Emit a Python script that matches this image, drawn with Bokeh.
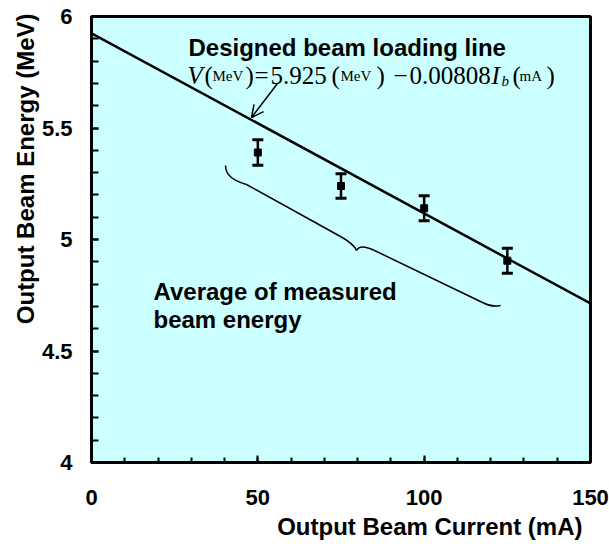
import math
from bokeh.plotting import figure
from bokeh.models import (Label, Arrow, OpenHead, Whisker, TeeHead, ColumnDataSource,
                          SingleIntervalTicker, Range1d, NumeralTickFormatter, Title)
from bokeh.embed import file_html
from bokeh.resources import INLINE

# ---- data ----
current_mA = [50, 75, 100, 125]
energy_MeV = [5.39, 5.24, 5.14, 4.905]
energy_err = [0.057, 0.055, 0.056, 0.056]
design_x = [0, 150]
design_y = [5.925, 4.713]
x_ticks_interval = 50
y_ticks_interval = 0.5

SANS = "Liberation Sans"
SERIF = "Liberation Serif"

# frame geometry (page pixels) for placing annotations
FL, FR, FT, FB = 91, 590, 16, 462
def dx(px):
    return (px - FL) / (FR - FL) * 150
def dy(py):
    return 4 + (FB - py) / (FB - FT) * 2

p = figure(frame_width=499, frame_height=446, x_range=Range1d(0, 150), y_range=Range1d(4, 6),
           output_backend="svg", toolbar_location=None,
           min_border_left=91, min_border_right=19, min_border_top=16, min_border_bottom=82,
           background_fill_color="#CCFFFF", border_fill_color="white")
p.grid.visible = False
p.outline_line_color = "black"
p.outline_line_width = 3

p.xaxis.ticker = SingleIntervalTicker(interval=x_ticks_interval, num_minor_ticks=5)
p.yaxis.ticker = SingleIntervalTicker(interval=y_ticks_interval, num_minor_ticks=5)
p.yaxis.formatter = NumeralTickFormatter(format="0.[0]")
for ax in (p.xaxis, p.yaxis):
    ax.axis_line_width = 3
    ax.major_tick_in = 7
    ax.major_tick_out = 0
    ax.minor_tick_in = 5
    ax.minor_tick_out = 0
    ax.major_tick_line_width = 2
    ax.minor_tick_line_width = 2
    ax.major_label_text_font = SANS
    ax.major_label_text_font_style = "bold"
    ax.major_label_text_font_size = "22px"
    ax.major_label_text_color = "black"
p.yaxis.minor_tick_in = 7
p.xaxis.major_label_standoff = 27
p.yaxis.major_label_standoff = 19

# axis titles as side titles (offset like the reference)
p.add_layout(Title(text="Output Beam Current (mA)", align="right", offset=8,
                   text_font=SANS, text_font_style="bold", text_font_size="24px",
                   text_color="black", standoff=6), "below")
p.add_layout(Title(text="Output Beam Energy (MeV)", align="right", offset=-3,
                   text_font=SANS, text_font_style="bold", text_font_size="24px",
                   text_color="black", standoff=0), "left")

# design line
p.line(design_x, design_y, line_color="black", line_width=2.5)

# measured points with error bars
src = ColumnDataSource(dict(
    x=current_mA, y=energy_MeV,
    upper=[v + e for v, e in zip(energy_MeV, energy_err)],
    lower=[v - e for v, e in zip(energy_MeV, energy_err)],
))
p.add_layout(Whisker(source=src, base="x", upper="upper", lower="lower",
                     line_color="black", line_width=2.5,
                     upper_head=TeeHead(size=11, line_width=3, line_color="black"),
                     lower_head=TeeHead(size=11, line_width=3, line_color="black")))
p.scatter("x", "y", source=src, marker="square", size=7, color="black")

# texts
def lab(text, px, py, size, font=SANS, style="bold", angle=0, align="left"):
    p.add_layout(Label(x=dx(px), y=dy(py), text=text, text_font=font, text_font_style=style,
                       text_font_size=f"{size}px", text_color="black", angle=angle,
                       text_align=align, text_baseline="alphabetic"))

lab("Designed beam loading line", 188, 47, 24)
lab("Average of measured", 153, 291, 24)
lab("beam energy", 153, 319, 24)

formula = [
    ("V", 187, 25, "italic", 0),
    ("(", 204, 25, "normal", 0),
    ("MeV", 212, 15, "normal", 0),
    (")", 245, 25, "normal", 0),
    ("=", 254, 25, "normal", 0),
    ("5.925", 270, 25, "normal", 0),
    ("(", 331, 25, "normal", 0),
    ("MeV", 340, 15, "normal", 0),
    (")", 376, 25, "normal", 0),
    ("\u2212", 393, 25, "normal", 0),
    ("0.00808", 409, 25, "normal", 0),
    ("I", 491, 25, "italic", 0),
    ("b", 501, 15, "italic", 5),
    ("(", 512, 25, "normal", 0),
    ("mA", 519, 15, "normal", 0),
    (")", 546, 25, "normal", 0),
]
for t, px, sz, st, off in formula:
    lab(t, px, 75 + off, sz, font=SERIF, style=st)

# arrow
p.add_layout(Arrow(end=OpenHead(size=12, line_width=1.5, line_color="black"),
                   x_start=dx(277), y_start=dy(83), x_end=dx(251), y_end=dy(117),
                   line_width=1.5, line_color="black"))

# curly brace
bz = [
    ((225, 165), (246, 184), (225, 175), (233, 180)),
    ((340, 236), (356, 250), (349, 241), (354, 245)),
    ((356, 250), (374, 250), (358, 246), (364, 245)),
    ((482, 302), (500, 305), (489, 306), (495, 306)),
]
p.bezier(x0=[dx(b[0][0]) for b in bz], y0=[dy(b[0][1]) for b in bz],
         x1=[dx(b[1][0]) for b in bz], y1=[dy(b[1][1]) for b in bz],
         cx0=[dx(b[2][0]) for b in bz], cy0=[dy(b[2][1]) for b in bz],
         cx1=[dx(b[3][0]) for b in bz], cy1=[dy(b[3][1]) for b in bz],
         line_color="black", line_width=1.5)
p.segment(x0=[dx(246), dx(374)], y0=[dy(184), dy(250)],
          x1=[dx(340), dx(482)], y1=[dy(236), dy(302)],
          line_color="black", line_width=1.5)

open("out.html", "w").write(file_html(p, INLINE))
